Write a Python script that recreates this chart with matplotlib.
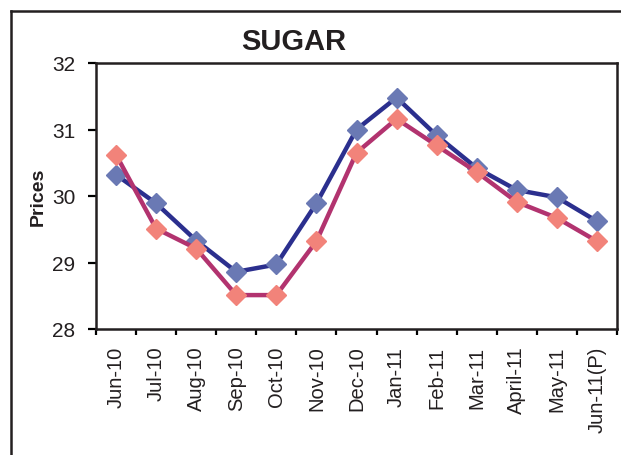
import matplotlib
matplotlib.use("Agg")
import matplotlib.pyplot as plt
from matplotlib.lines import Line2D

plt.rcParams['font.family'] = ['Liberation Sans', 'DejaVu Sans']

months = ["Jun-10", "Jul-10", "Aug-10", "Sep-10", "Oct-10", "Nov-10", "Dec-10",
          "Jan-11", "Feb-11", "Mar-11", "April-11", "May-11", "Jun-11(P)"]
series_blue = [30.32, 29.89, 29.33, 28.86, 28.97, 29.89, 31.00,
               31.48, 30.91, 30.42, 30.09, 29.98, 29.62]
series_pink = [30.62, 29.51, 29.21, 28.51, 28.51, 29.32, 30.65,
               31.16, 30.76, 30.36, 29.91, 29.67, 29.32]
yticks = [28, 29, 30, 31, 32]

fig = plt.figure(figsize=(6.21, 4.56), dpi=100)
ax = fig.add_axes([96/621, 126/456, 521/621, 266/456])

x = list(range(len(months)))
ax.plot(x, series_blue, color='#2B2F8E', lw=3.2, marker='D', markersize=10,
        markerfacecolor='#6A79B4', markeredgecolor='#6A79B4', zorder=3)
ax.plot(x, series_pink, color='#B2336F', lw=3.2, marker='D', markersize=10,
        markerfacecolor='#F2837A', markeredgecolor='#F2837A', zorder=4)

ax.set_xlim(-0.5, len(months) - 0.5)
ax.set_ylim(28, 32)
ax.set_yticks(yticks)
ax.set_yticklabels([str(v) for v in yticks], fontsize=15, color='#231F20')
ax.set_xticks([i - 0.5 for i in range(len(months) + 1)])
ax.set_xticklabels([])
ax.set_xticks(x, minor=True)
ax.set_xticklabels(months, minor=True, rotation=90, fontsize=14.5, color='#231F20')
ax.tick_params(axis='x', which='minor', length=0, pad=12)
ax.tick_params(axis='x', which='major', direction='out', length=4.5, width=1.6)
ax.tick_params(axis='y', direction='out', length=6, width=1.6, pad=9)
for s in ax.spines.values():
    s.set_linewidth(1.8)
    s.set_color('#231F20')

ax.set_ylabel("Prices", fontsize=14, fontweight='bold', color='#231F20')
ax.yaxis.set_label_coords(-(96 - 38) / 521, 0.5)
ax.yaxis.label.set_va('center')

fig.text(294/621, 1 - 42/456, "SUGAR", fontsize=21, fontweight='bold',
         ha='center', va='center', color='#231F20')

# outer frame (extends beyond the visible image)
fig.add_artist(Line2D([11/621, 11/621], [1 - 12/456, -0.05], transform=fig.transFigure,
                      color='#231F20', lw=1.8))
fig.add_artist(Line2D([11/621, 1.05], [1 - 12/456, 1 - 12/456], transform=fig.transFigure,
                      color='#231F20', lw=1.8))

fig.savefig("out.png", dpi=100)
